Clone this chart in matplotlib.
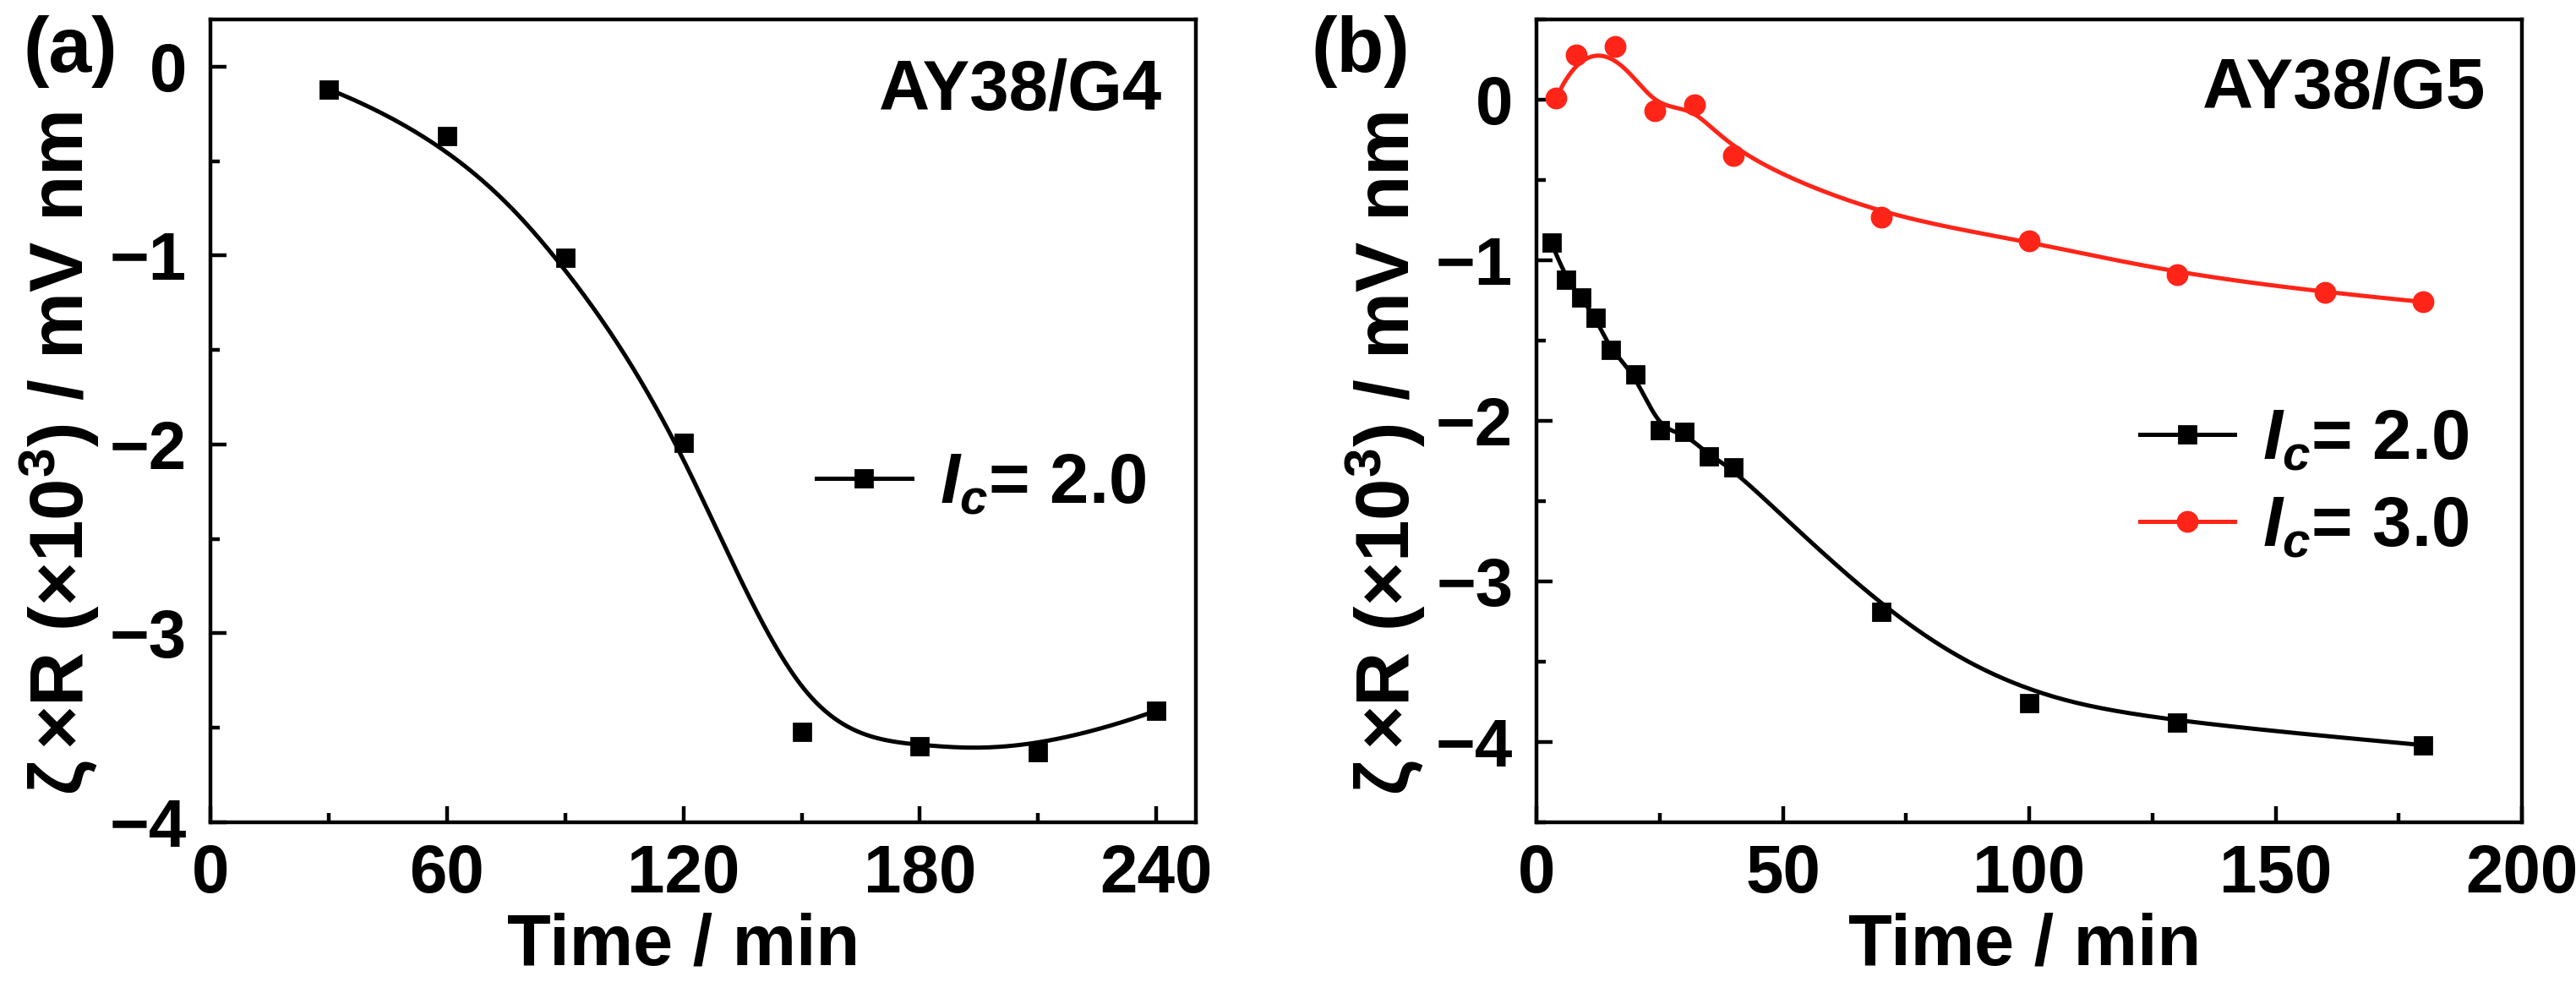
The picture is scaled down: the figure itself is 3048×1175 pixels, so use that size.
import numpy as np
import matplotlib
matplotlib.use("Agg")
import matplotlib.pyplot as plt
from matplotlib.ticker import MultipleLocator

# panel (a): AY38/G4
time_a = [30, 60, 90, 120, 150, 180, 210, 240]
zeta_a = [-0.12, -0.37, -1.01, -1.99, -3.52, -3.60, -3.63, -3.41]

# panel (b): AY38/G5
time_b2 = [3, 6, 9, 12, 15, 20, 25, 30, 35, 40, 70, 100, 130, 180]
zeta_b2 = [-0.89, -1.12, -1.23, -1.36, -1.56, -1.71, -2.06, -2.07, -2.22, -2.29,
           -3.19, -3.76, -3.88, -4.02]
time_b3 = [4, 8, 16, 24, 32, 40, 70, 100, 130, 160, 180]
zeta_b3 = [0.01, 0.28, 0.33, -0.07, -0.03, -0.35, -0.73, -0.88, -1.09, -1.20, -1.26]

RED = "#ff2418"

plt.rcParams["font.family"] = ["Liberation Sans", "DejaVu Sans"]
plt.rcParams["font.weight"] = "bold"
plt.rcParams["axes.labelweight"] = "bold"
plt.rcParams["mathtext.fontset"] = "custom"
plt.rcParams["mathtext.rm"] = "Liberation Sans:bold"
plt.rcParams["mathtext.it"] = "Liberation Sans:bold:italic"
plt.rcParams["mathtext.bf"] = "Liberation Sans:bold"
plt.rcParams["mathtext.sf"] = "Liberation Sans"  # thin glyphs for zeta and times


def bspline(xs, ys, k=3, num=400):
    """Clamped cubic B-spline using the data points as control points."""
    pts = np.column_stack([xs, ys]).astype(float)
    n = len(pts)
    knots = np.concatenate([np.zeros(k), np.arange(n - k + 1), np.full(k, n - k)]).astype(float)
    t = np.linspace(0, n - k, num)
    nb = len(knots) - 1
    N = np.zeros((num, nb))
    for i in range(nb):
        N[:, i] = (t >= knots[i]) & (t < knots[i + 1])
    # last point belongs to the last non-empty interval
    last = max(i for i in range(nb) if knots[i] < knots[i + 1])
    N[-1, :] = 0
    N[-1, last] = 1
    for p in range(1, k + 1):
        newN = np.zeros((num, nb - p))
        for i in range(nb - p):
            d1 = knots[i + p] - knots[i]
            d2 = knots[i + p + 1] - knots[i + 1]
            a = (t - knots[i]) / d1 * N[:, i] if d1 > 0 else 0
            b = (knots[i + p + 1] - t) / d2 * N[:, i + 1] if d2 > 0 else 0
            newN[:, i] = a + b
        N = newN
    curve = N @ pts
    return curve[:, 0], curve[:, 1]


YLABEL = r"$\mathsf{\zeta\,×}$R (${\mathsf{×}}$10$^{\mathrm{3}}$) / mV nm"


def style_axes(ax, xlab_x):
    for sp in ax.spines.values():
        sp.set_linewidth(1.6)
    ax.tick_params(which="both", direction="in", top=False, right=False, width=1.6)
    ax.tick_params(which="major", length=7, labelsize=28.8, pad=9)
    ax.tick_params(which="minor", length=4)
    ax.tick_params(axis="y", which="major", pad=10)
    ax.set_xlabel("Time / min", fontsize=30.5)
    ax.set_ylabel(YLABEL, fontsize=32)
    ax.xaxis.set_label_coords(xlab_x, -0.112)
    ax.yaxis.set_label_coords(-0.111, 0.46)


def draw_series(ax, xs, ys, color, marker, ms, label):
    cx, cy = bspline(xs, ys)
    ax.plot(cx, cy, color=color, lw=1.8)
    ax.plot(xs, ys, ls="none", marker=marker, ms=ms, color=color)
    ax.plot([], [], color=color, lw=1.8, marker=marker, ms=ms, label=label)


fig = plt.figure(figsize=(15.24, 5.875), dpi=200)
ax_a = fig.add_axes([0.0817, 0.172, 0.3825, 0.8085])
ax_b = fig.add_axes([0.5965, 0.172, 0.3825, 0.8085])

# (a)
draw_series(ax_a, time_a, zeta_a, "black", "s", 7.5, r"$I_c$= 2.0")
ax_a.set_xlim(0, 250)
ax_a.set_ylim(-4, 0.25)
ax_a.xaxis.set_major_locator(MultipleLocator(60))
ax_a.xaxis.set_minor_locator(MultipleLocator(30))
ax_a.yaxis.set_major_locator(MultipleLocator(1))
ax_a.yaxis.set_minor_locator(MultipleLocator(0.5))
style_axes(ax_a, 0.48)
ax_a.text(0.966, 0.911, "AY38/G4", transform=ax_a.transAxes, ha="right", va="center",
          fontsize=30)
ax_a.legend(loc="center left", bbox_to_anchor=(0.615, 0.421), frameon=False, fontsize=30,
            handlelength=1.35, handletextpad=0.4, borderpad=0, borderaxespad=0)

# (b)
draw_series(ax_b, time_b2, zeta_b2, "black", "s", 7.5, r"$I_c$= 2.0")
draw_series(ax_b, time_b3, zeta_b3, RED, "o", 8.3, r"$I_c$= 3.0")
ax_b.set_xlim(0, 200)
ax_b.set_ylim(-4.5, 0.5)
ax_b.xaxis.set_major_locator(MultipleLocator(50))
ax_b.xaxis.set_minor_locator(MultipleLocator(25))
ax_b.yaxis.set_major_locator(MultipleLocator(1))
ax_b.yaxis.set_minor_locator(MultipleLocator(0.5))
style_axes(ax_b, 0.495)
ax_b.text(0.963, 0.913, "AY38/G5", transform=ax_b.transAxes, ha="right", va="center",
          fontsize=30)
ax_b.legend(loc="center left", bbox_to_anchor=(0.612, 0.421), frameon=False, fontsize=30,
            handlelength=1.35, handletextpad=0.4, borderpad=0, borderaxespad=0,
            labelspacing=0.3)

fig.text(27 / 3048, 1 - 18 / 1175, "(a)", fontsize=33, ha="left", va="top")
fig.text(1552 / 3048, 1 - 18 / 1175, "(b)", fontsize=33, ha="left", va="top")

fig.savefig("out.png", dpi=200)
